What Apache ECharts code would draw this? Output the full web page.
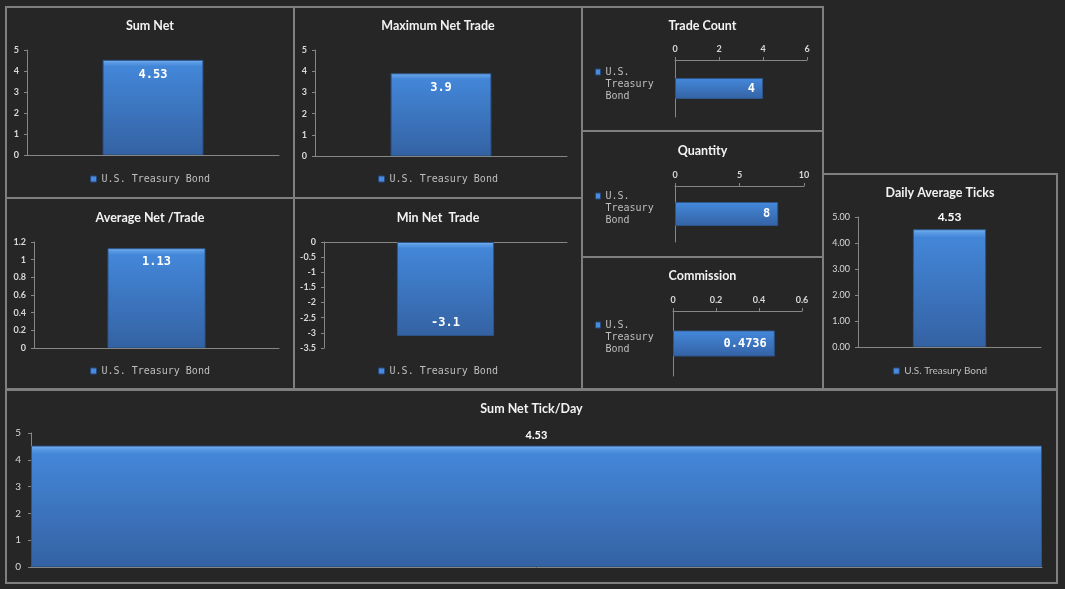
<!DOCTYPE html>
<html>
<head>
<meta charset="utf-8">
<script src="https://cdn.jsdelivr.net/npm/echarts@6/dist/echarts.min.js"></script>
<style>
  html, body { margin: 0; padding: 0; background: #262626; width: 1065px; height: 589px; overflow: hidden; }
  .chart { position: absolute; }
  .frame { position: absolute; box-sizing: border-box; border: 2px solid #7f7f7f; pointer-events: none; }
</style>
</head>
<body>
<script>
// data
const category = ['U.S. Treasury Bond'];
const sumNet = [4.53];
const maxNetTrade = [3.9];
const avgNetTrade = [1.13];
const minNetTrade = [-3.1];
const tradeCount = [4];
const quantity = [8];
const commission = [0.4736];
const dailyAvgTicks = [4.53];
const sumNetTickDay = [4.53];

// axis ranges [min, max, interval]
const sumNetTicks = [0, 5, 1];
const maxNetTicks = [0, 5, 1];
const avgNetTicks = [0, 1.2, 0.2];
const minNetTicks = [-3.5, 0, 0.5];
const tradeCountTicks = [0, 6, 2];
const quantityTicks = [0, 10, 5];
const commissionTicks = [0, 0.6, 0.2];
const dailyTicks = [0, 5, 1];
const tickDayTicks = [0, 5, 1];

const AXIS = '#868686';
const TICK_TEXT = '#d9d9d9';
const LEGEND_TEXT = '#bfbfbf';
const MONO = '"DejaVu Sans Mono", monospace';

const barItem = {
  color: {
    type: 'linear', x: 0, y: 0, x2: 0, y2: 1,
    colorStops: [
      { offset: 0, color: '#7ab8f4' },
      { offset: 0.03, color: '#5a9ae4' },
      { offset: 0.07, color: '#4386d8' },
      { offset: 1, color: '#3462a3' }
    ]
  },
  borderColor: '#2c558a',
  borderWidth: 1
};
const legendIcon = { color: '#4a8be0', borderColor: '#24497a', borderWidth: 1 };

// panel = chart + grey frame on top, box = [left, top, width, height]
function panel(box) {
  const div = document.createElement('div');
  div.className = 'chart';
  div.style.left = box[0] + 'px';
  div.style.top = box[1] + 'px';
  div.style.width = box[2] + 'px';
  div.style.height = box[3] + 'px';
  document.body.appendChild(div);
  const frame = document.createElement('div');
  frame.className = 'frame';
  frame.style.left = box[0] + 'px';
  frame.style.top = box[1] + 'px';
  frame.style.width = box[2] + 'px';
  frame.style.height = box[3] + 'px';
  document.body.appendChild(frame);
  return echarts.init(div);
}

function titleOpt(text, top) {
  return {
    text: text, left: 'center', top: top, padding: 0,
    textStyle: { color: '#f2f2f2', fontFamily: 'Lato', fontWeight: 'bold', fontSize: 12.5 }
  };
}

function columnChart(box, o) {
  const chart = panel(box);
  const option = {
    animation: false,
    title: titleOpt(o.title, o.titleTop),
    grid: o.grid,
    xAxis: {
      type: 'category', data: category,
      axisLine: { lineStyle: { color: AXIS } },
      axisTick: { show: false }, axisLabel: { show: false }
    },
    yAxis: {
      type: 'value', min: o.ticks[0], max: o.ticks[1], interval: o.ticks[2],
      splitLine: { show: false },
      axisLine: { show: true, lineStyle: { color: AXIS } },
      axisTick: { show: true, length: 3, lineStyle: { color: AXIS } },
      axisLabel: {
        color: TICK_TEXT, fontFamily: 'Lato', fontWeight: o.tickWeight || 'bold',
        fontSize: o.tickSize || 9, margin: o.tickMargin || 8, formatter: o.tickFmt
      }
    },
    series: [{
      type: 'bar', name: category[0], data: o.data, barWidth: o.barWidth,
      itemStyle: barItem, label: o.label
    }]
  };
  if (o.legendTop != null) {
    option.legend = {
      data: [category[0]], top: o.legendTop, left: 'center', padding: 0,
      icon: 'rect', itemWidth: 6, itemHeight: 6, itemGap: 0, itemStyle: legendIcon,
      textStyle: { color: LEGEND_TEXT, fontFamily: o.legendFont || MONO, fontSize: 10 }
    };
  }
  chart.setOption(option);
}

function hbarChart(box, o) {
  const chart = panel(box);
  chart.setOption({
    animation: false,
    title: titleOpt(o.title, o.titleTop),
    legend: {
      data: [category[0]], top: o.legendTop, left: 14, padding: 0,
      icon: 'rect', itemWidth: 5, itemHeight: 6, itemGap: 0, itemStyle: legendIcon,
      // two blank lines first so the icon lines up with "U.S."
      formatter: function (name) { return '\n\n' + name.split(' ').join('\n'); },
      textStyle: { color: LEGEND_TEXT, fontFamily: MONO, fontSize: 10, lineHeight: 12 }
    },
    grid: o.grid,
    xAxis: {
      type: 'value', position: 'top', min: o.ticks[0], max: o.ticks[1], interval: o.ticks[2],
      splitLine: { show: false },
      axisLine: { show: true, lineStyle: { color: AXIS } },
      axisTick: { show: true, length: 3, lineStyle: { color: AXIS } },
      axisLabel: { color: TICK_TEXT, fontFamily: 'Lato', fontWeight: 'bold', fontSize: 9, margin: 6 }
    },
    yAxis: {
      type: 'category', data: category,
      axisLine: { show: true, lineStyle: { color: AXIS } },
      axisTick: { show: false }, axisLabel: { show: false }
    },
    series: [{
      type: 'bar', name: category[0], data: o.data, barWidth: o.barWidth,
      itemStyle: barItem,
      label: {
        show: true, position: 'insideRight', distance: 8,
        color: '#ffffff', fontFamily: MONO, fontWeight: 'bold', fontSize: 12
      }
    }]
  });
}

const monoLabel = function (pos, dist) {
  return { show: true, position: pos, distance: dist, color: '#ffffff', fontFamily: MONO, fontWeight: 'bold', fontSize: 12 };
};

columnChart([5, 6, 290, 193], {
  title: 'Sum Net', titleTop: 13, legendTop: 168,
  grid: { left: 22, right: 16, top: 44, bottom: 44 },
  ticks: sumNetTicks, data: sumNet, barWidth: '40%',
  label: monoLabel('insideTop', 9)
});

columnChart([293, 6, 290, 193], {
  title: 'Maximum Net Trade', titleTop: 13, legendTop: 168,
  grid: { left: 22, right: 16, top: 44, bottom: 43 },
  ticks: maxNetTicks, data: maxNetTrade, barWidth: '40%',
  label: monoLabel('insideTop', 9)
});

columnChart([5, 197, 290, 193], {
  title: 'Average Net /Trade', titleTop: 14, legendTop: 169,
  grid: { left: 29, right: 16, top: 45, bottom: 42 },
  ticks: avgNetTicks, data: avgNetTrade, barWidth: '40%',
  label: monoLabel('insideTop', 8)
});

columnChart([293, 197, 290, 193], {
  title: 'Min Net  Trade', titleTop: 14, legendTop: 169,
  grid: { left: 31, right: 16, top: 45, bottom: 42 },
  ticks: minNetTicks, data: minNetTrade, barWidth: '40%',
  label: monoLabel('insideBottom', 7)
});

hbarChart([581, 6, 243, 126], {
  title: 'Trade Count', titleTop: 13, legendTop: 36,
  grid: { left: 94, right: 17, top: 54, bottom: 15 },
  ticks: tradeCountTicks, data: tradeCount, barWidth: 21
});

hbarChart([581, 130, 243, 128], {
  title: 'Quantity', titleTop: 14, legendTop: 36,
  grid: { left: 94, right: 20, top: 56, bottom: 16 },
  ticks: quantityTicks, data: quantity, barWidth: 24
});

hbarChart([581, 256, 243, 134], {
  title: 'Commission', titleTop: 13, legendTop: 39,
  grid: { left: 92, right: 22, top: 55, bottom: 14 },
  ticks: commissionTicks, data: commission, barWidth: 26
});

columnChart([822, 173, 236, 217], {
  title: 'Daily Average Ticks', titleTop: 13, legendTop: 193, legendFont: 'Lato',
  grid: { left: 36, right: 17, top: 44, bottom: 43 },
  ticks: dailyTicks, data: dailyAvgTicks, barWidth: '40%',
  tickWeight: 'normal', tickFmt: function (v) { return v.toFixed(2); },
  label: { show: true, position: 'top', distance: 6, color: '#ffffff', fontFamily: 'Lato', fontWeight: 'bold', fontSize: 12 }
});

columnChart([5, 389, 1053, 195], {
  title: 'Sum Net Tick/Day', titleTop: 13,
  grid: { left: 26, right: 16, top: 44, bottom: 17 },
  ticks: tickDayTicks, data: sumNetTickDay, barWidth: '100%',
  tickWeight: 'normal', tickSize: 10, tickMargin: 10,
  label: { show: true, position: 'top', distance: 5, color: '#ffffff', fontFamily: 'Lato', fontWeight: 'bold', fontSize: 11 }
});
</script>
</body>
</html>
